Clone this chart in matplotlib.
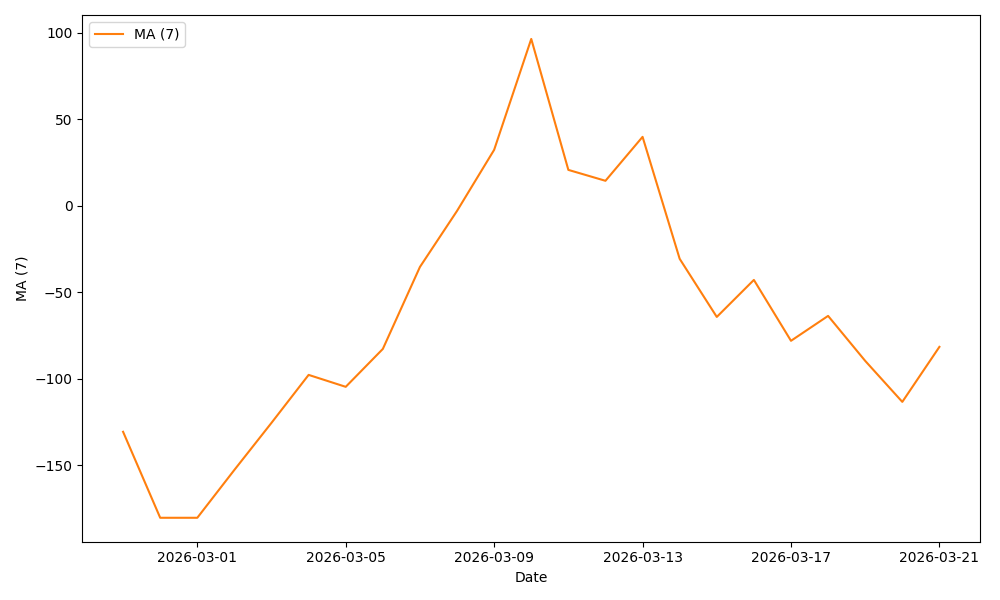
import pandas as pd
import matplotlib
matplotlib.use("Agg")
import matplotlib.pyplot as plt

# Moving average values
dates = pd.date_range("2026-02-27", "2026-03-21", freq="D")
ma7 = [-130.6, -180.3, -180.3, -152.6, -125.4, -97.7, -104.6, -82.7,
       -35.3, -2.9, 32.4, 96.5, 20.8, 14.5, 39.9, -30.6, -64.2, -42.8,
       -78.0, -63.6, -89.6, -113.3, -81.5]

fig, ax = plt.subplots(figsize=(10, 6), dpi=100)
ax.plot(dates, ma7, color="tab:orange", label="MA (7)")
ax.set_xlabel("Date")
ax.set_ylabel("MA (7)")
ax.legend(loc="upper left")
plt.tight_layout()
plt.savefig("out.png")
